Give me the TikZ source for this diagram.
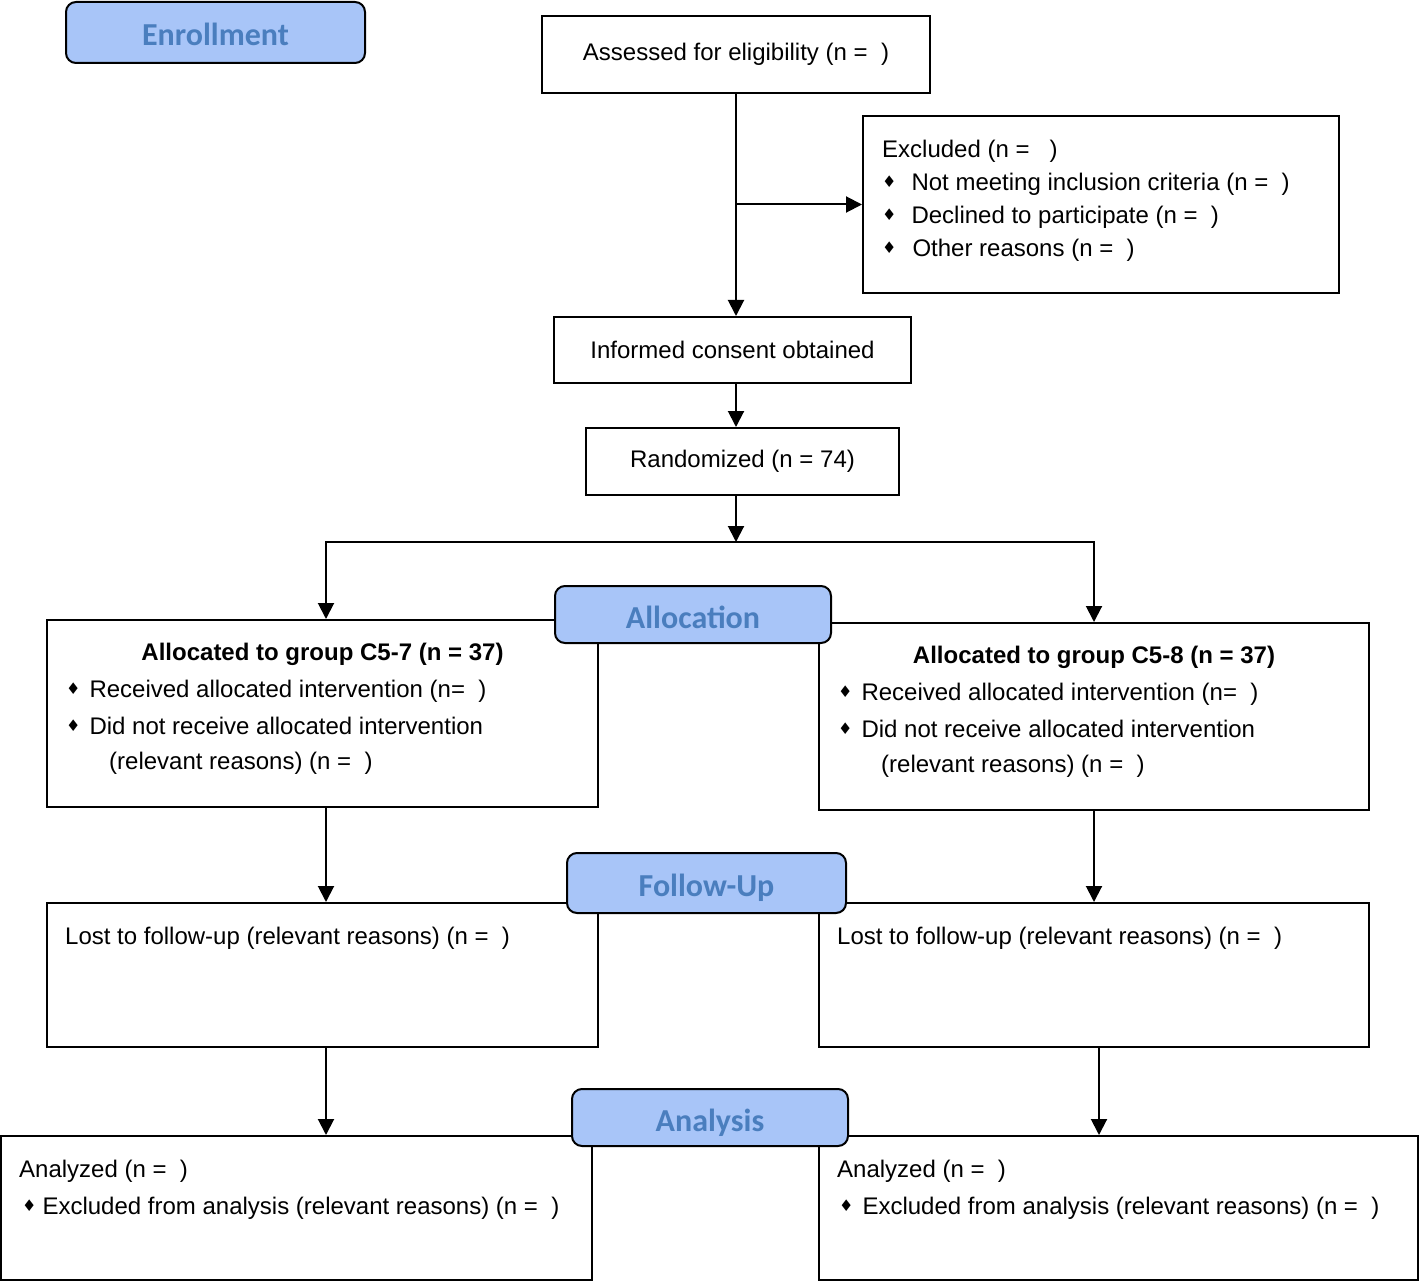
\documentclass[tikz,border=0pt]{standalone}
\usepackage{fontspec}
\setmainfont{Liberation Sans}
\newfontfamily\hdfont{Carlito}
\newfontfamily\symfont{DejaVu Sans}
\usetikzlibrary{arrows.meta}

\definecolor{hdfill}{RGB}{168,197,248}
\definecolor{hdtext}{RGB}{74,126,190}

% small diamond bullet
\newcommand{\dmd}[1]{\raisebox{3pt}{\symfont\fontsize{16}{16}\selectfont ♦}\hspace{#1}}

\begin{document}
\begin{tikzpicture}[x=1pt,y=-1pt,
	box/.style={draw,line width=2pt,inner sep=0pt,font=\fontsize{24}{33}\selectfont},
	txt/.style={inner sep=0pt,align=left,font=\fontsize{24}{33}\selectfont},
	hdr/.style={draw,line width=2pt,rounded corners=10pt,fill=hdfill,text=hdtext,inner sep=0pt,text height=27pt,text depth=0pt,font=\hdfont\bfseries\fontsize{32}{32}\selectfont},
	arr/.style={line width=2pt,-{Triangle[length=16pt,width=16pt]}},
	ln/.style={line width=2pt}]

	\useasboundingbox (0,0) rectangle (1419,1281);

%	\draw[step=100,gray,very thin] (0,0) grid (1419,1281);

	% enrollment
	\node[box,minimum width=388pt,minimum height=77pt] (assess) at (736,54.5) {\raisebox{2pt}{Assessed for eligibility (n = \ )}};
	\node[box,minimum width=476pt,minimum height=177pt] (excl) at (1101,204.5) {};
	\node[txt,anchor=north west] (exclT) at ([shift={(20,25)}]excl.north west)
		{Excluded (n = \ \ )\\
		\dmd{15pt}Not meeting inclusion criteria (n = \ )\\
		\dmd{15pt}Declined to participate (n = \ )\\
		\dmd{16pt}Other reasons (n = \ )};
	\node[box,minimum width=357pt,minimum height=66pt] (consent) at (732.5,350) {Informed consent obtained};
	\node[box,minimum width=313pt,minimum height=67pt] (rand) at (742.5,461.5) {\raisebox{-1pt}{Randomized (n = 74)}};

	% allocation
	\node[box,minimum width=551pt,minimum height=187pt] (allocL) at (322.5,713.5) {};
	\node[txt,anchor=north,font=\bfseries\fontsize{24}{33}\selectfont] (allocLT) at ([shift={(0,24)}]allocL.north) {Allocated to group C5-7 (n = 37)};
	\node[txt,anchor=north west] (allocLL) at ([shift={(20,61)}]allocL.north west)
		{\dmd{9pt}Received allocated intervention (n= \ )\\[4pt]
		\dmd{9pt}Did not receive allocated intervention\\[2pt]
		\hspace{43pt}(relevant reasons) (n = \ )};
	\node[box,minimum width=550pt,minimum height=187pt] (allocR) at (1094,716.5) {};
	\node[txt,anchor=north,font=\bfseries\fontsize{24}{33}\selectfont] (allocRT) at ([shift={(0,24)}]allocR.north) {Allocated to group C5-8 (n = 37)};
	\node[txt,anchor=north west] (allocRL) at ([shift={(20,61)}]allocR.north west)
		{\dmd{9pt}Received allocated intervention (n= \ )\\[4pt]
		\dmd{9pt}Did not receive allocated intervention\\[2pt]
		\hspace{43pt}(relevant reasons) (n = \ )};

	% follow-up
	\node[box,minimum width=551pt,minimum height=144pt] (lostL) at (322.5,975) {};
	\node[txt,anchor=north west] (lostLT) at ([shift={(19,25)}]lostL.north west) {Lost to follow-up (relevant reasons) (n = \ )};
	\node[box,minimum width=550pt,minimum height=144pt] (lostR) at (1094,975) {};
	\node[txt,anchor=north west] (lostRT) at ([shift={(19,25)}]lostR.north west) {Lost to follow-up (relevant reasons) (n = \ )};

	% analysis
	\node[box,minimum width=591pt,minimum height=144pt] (anaL) at (296.5,1208) {};
	\node[txt,anchor=north west] (anaLT) at ([shift={(19,25)}]anaL.north west)
		{Analyzed (n = \ )\\[4pt]
		\hspace{3pt}\dmd{6pt}Excluded from analysis (relevant reasons) (n = \ )};
	\node[box,minimum width=599pt,minimum height=144pt] (anaR) at (1118.5,1208) {};
	\node[txt,anchor=north west] (anaRT) at ([shift={(19,25)}]anaR.north west)
		{Analyzed (n = \ )\\[4pt]
		\hspace{2pt}\dmd{9pt}Excluded from analysis (relevant reasons) (n = \ )};

	% connectors
	\coordinate (split) at (736,542);
	\draw[arr] (assess.south) -- (assess.south |- consent.north);
	\draw[arr] (assess.south |- excl.west) -- (excl.west);
	\draw[arr] (assess.south |- consent.south) -- (assess.south |- rand.north);
	\draw[arr] (split |- rand.south) -- (split);
	\draw[arr] (split) -| ([xshift=3.5pt]allocL.north);
	\draw[arr] (split) -| (allocR.north);
	\draw[arr] ([xshift=3.5pt]allocL.south) -- ([xshift=3.5pt]allocL.south |- lostL.north);
	\draw[arr] (allocR.south) -- (lostR.north);
	\draw[arr] ([xshift=3.5pt]lostL.south) -- ([xshift=3.5pt]lostL.south |- anaL.north);
	\draw[arr] ([xshift=5pt]lostR.south) -- ([xshift=5pt]lostR.south |- anaR.north);

	% stage headers
	\node[hdr,minimum width=299pt,minimum height=61pt] (enroll) at (215.5,32.5) {Enrollment};
	\node[hdr,minimum width=276pt,minimum height=57pt] (allocH) at (693,614.5) {Allocation};
	\node[hdr,minimum width=279pt,minimum height=60pt] (follow) at (706.5,883) {Follow-Up};
	\node[hdr,minimum width=276pt,minimum height=57pt] (analysis) at (710,1117.5) {Analysis};

\end{tikzpicture}
\end{document}
